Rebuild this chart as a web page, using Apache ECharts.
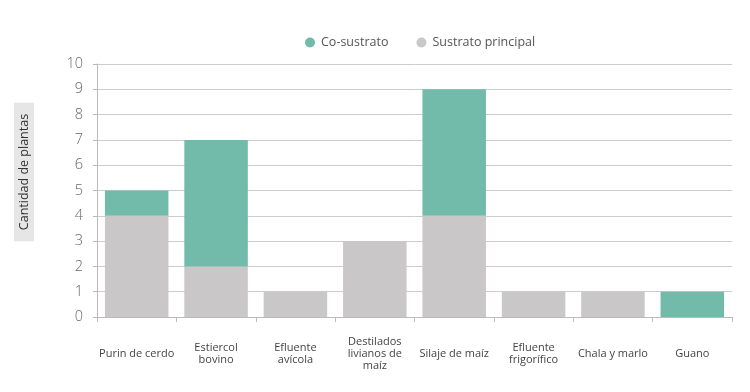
<!DOCTYPE html>
<html>
<head>
<meta charset="utf-8">
<script src="https://cdn.jsdelivr.net/npm/echarts@6/dist/echarts.min.js"></script>
<style>html,body{margin:0;padding:0;background:#fff}#c{width:750px;height:392px}</style>
</head>
<body>
<div id="c"></div>
<script>
const categories = ['Purin de cerdo', 'Estiercol\nbovino', 'Efluente\navícola', 'Destilados\nlivianos de\nmaíz', 'Silaje de maíz', 'Efluente\nfrigorífico', 'Chala y marlo', 'Guano'];
const sustratoPrincipal = [4, 2, 1, 3, 4, 1, 1, 0];
const coSustrato = [1, 5, 0, 0, 5, 0, 0, 1];
const yTicks = { min: 0, max: 10, interval: 1 };
const yTitle = 'Cantidad de plantas';

const chart = echarts.init(document.getElementById('c'));
const font = 'Open Sans';
chart.setOption({
  animation: false,
  textStyle: { fontFamily: font },
  legend: {
    data: ['Co-sustrato', 'Sustrato principal'],
    top: 31,
    left: 300,
    icon: 'circle',
    itemWidth: 10,
    itemHeight: 10,
    itemGap: 28,
    textStyle: { fontSize: 12.5, color: '#555', fontFamily: font, padding: [0, 0, 0, 1] }
  },
  grid: { left: 97, right: 18, top: 64, bottom: 75, outerBoundsMode: 'none', containLabel: false },
  graphic: [{
    type: 'text',
    x: 24, y: 172,
    rotation: Math.PI / 2,
    style: {
      text: yTitle,
      fontSize: 12.5,
      fontFamily: font,
      fill: '#333',
      align: 'center',
      verticalAlign: 'middle',
      backgroundColor: '#e6e6e6',
      padding: [4, 11, 3, 11]
    }
  }],
  xAxis: {
    type: 'category',
    data: categories,
    axisLine: { lineStyle: { color: '#bbb' } },
    axisTick: { show: true, length: 5, lineStyle: { color: '#bbb' } },
    axisLabel: { color: '#444', fontSize: 11, margin: 37, verticalAlign: 'middle', lineHeight: 12, interval: 0 }
  },
  yAxis: {
    type: 'value',
    min: yTicks.min, max: yTicks.max, interval: yTicks.interval,
    axisLine: { show: true, lineStyle: { color: '#bbb' } },
    axisTick: { show: true, length: 4, lineStyle: { color: '#bbb' } },
    axisLabel: { color: '#666', fontSize: 14.5, fontWeight: 300, margin: 14 },
    splitLine: { lineStyle: { color: '#ccc' } }
  },
  series: [
    { name: 'Sustrato principal', type: 'bar', stack: 'a', data: sustratoPrincipal, itemStyle: { color: '#c9c7c8' }, barCategoryGap: '20%' },
    { name: 'Co-sustrato', type: 'bar', stack: 'a', data: coSustrato, itemStyle: { color: '#72bbab' }, barCategoryGap: '20%' }
  ]
});
</script>
</body>
</html>
